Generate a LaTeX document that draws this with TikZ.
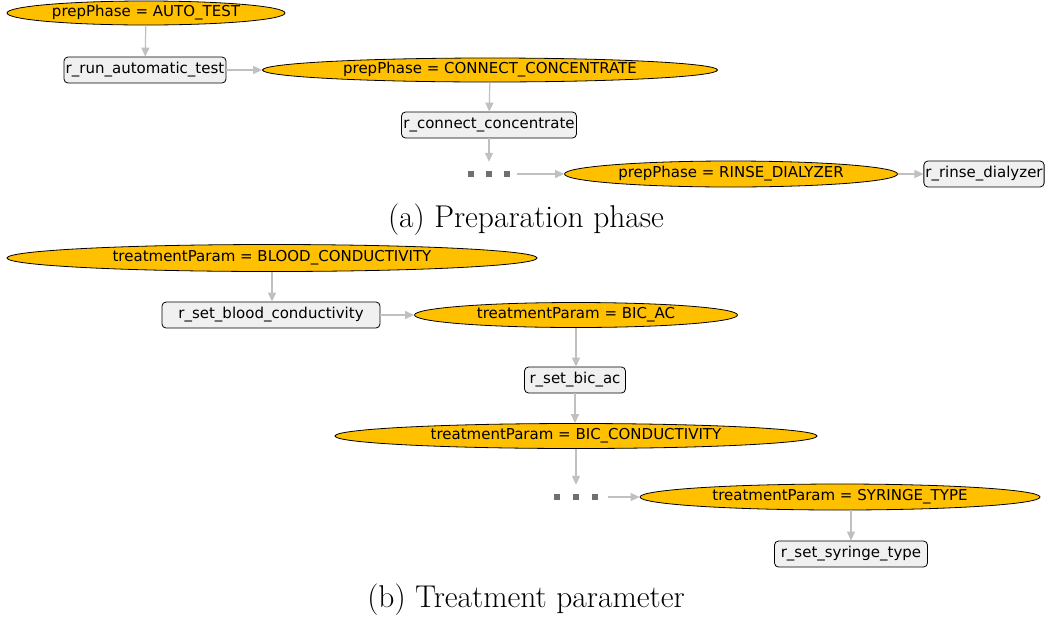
\documentclass[tikz,border=0pt]{standalone}
\usepackage{fontspec}
\setmainfont{Latin Modern Roman}
\newfontfamily\gfont{DejaVu Sans}
\usetikzlibrary{shapes.geometric,arrows.meta}
\definecolor{ellfill}{HTML}{FFC000}
\definecolor{boxfill}{HTML}{F0F0F0}
\definecolor{edgec}{HTML}{C0C0C0}
\definecolor{dotc}{HTML}{707070}
\tikzset{
  cond/.style={ellipse, draw=black, line width=0.8pt, fill=ellfill, inner sep=0pt, font=\gfont\fontsize{15}{17}\selectfont},
  rulebox/.style={rectangle, rounded corners=4pt, draw=black, line width=0.8pt, fill=boxfill, inner sep=1.5pt, minimum height=26pt, font=\gfont\fontsize{15}{17}\selectfont},
  conn/.style={draw=edgec, line width=1.2pt, -{Triangle[length=9pt,width=8pt]}},
  dotsbox/.style={minimum width=44pt, minimum height=24pt, inner sep=0pt},
  sq/.style={fill=dotc, minimum size=6pt, inner sep=0pt},
  captext/.style={font=\fontsize{31.5}{36}\selectfont}
}
\begin{document}
\begin{tikzpicture}[x=1pt,y=-1pt]
\useasboundingbox (0,0) rectangle (1047,622);
% (a)
\node[cond, minimum width=278pt, minimum height=24pt] (e1) at (146,13) {prepPhase = AUTO\_TEST};
\node[rulebox, minimum width=162pt] (r1) at (145,70) {r\_run\_automatic\_test};
\node[cond, minimum width=455pt, minimum height=24pt] (e2) at (490,70) {prepPhase = CONNECT\_CONCENTRATE};
\node[rulebox, minimum width=175pt] (r2) at (489,125) {r\_connect\_concentrate};
\node[dotsbox] (d1) at (489,174) {};
\node[sq] (d1a) at (471,174) {};
\node[sq] (d1b) at (489,174) {};
\node[sq] (d1c) at (507,174) {};
\node[cond, minimum width=333pt, minimum height=26pt] (e3) at (731,174) {prepPhase = RINSE\_DIALYZER};
\node[rulebox, minimum width=117pt] (r3) at (984,174) {r\_rinse\_dialyzer};
\draw[conn] (e1) -- (r1);
\draw[conn] (r1) -- (e2);
\draw[conn] (e2) -- (r2);
\draw[conn] (r2) -- (d1);
\draw[conn] ([xshift=6pt]d1.east) -- (e3);
\draw[conn] (e3) -- (r3);
\node[captext] (ca) at (526,220) {(a) Preparation phase};
% (b)
\node[cond, minimum width=530pt, minimum height=27pt] (e4) at (272,258) {treatmentParam = BLOOD\_CONDUCTIVITY};
\node[rulebox, minimum width=218pt] (r4) at (271,315) {r\_set\_blood\_conductivity};
\node[cond, minimum width=323pt, minimum height=25pt] (e5) at (576,315) {treatmentParam = BIC\_AC};
\node[rulebox, minimum width=101pt] (r5) at (575,380) {r\_set\_bic\_ac};
\node[cond, minimum width=482pt, minimum height=25pt] (e6) at (576,436) {treatmentParam = BIC\_CONDUCTIVITY};
\node[dotsbox] (d2) at (576,497) {};
\node[sq] (d2a) at (557,497) {};
\node[sq] (d2b) at (576,497) {};
\node[sq] (d2c) at (595,497) {};
\node[cond, minimum width=400pt, minimum height=26pt] (e7) at (840,497) {treatmentParam = SYRINGE\_TYPE};
\node[rulebox, minimum width=153pt] (r7) at (851,554) {r\_set\_syringe\_type};
\draw[conn] (e4) -- (e4 |- r4.north);
\draw[conn] (r4) -- (e5);
\draw[conn] (e5) -- (e5 |- r5.north);
\draw[conn] (r5) -- (r5 |- e6.north);
\draw[conn] (e6) -- (d2);
\draw[conn] ([xshift=10pt]d2.east) -- (e7);
\draw[conn] (r7 |- e7.south) -- (r7);
\node[captext] (cb) at (526,600) {(b) Treatment parameter};
\end{tikzpicture}
\end{document}
